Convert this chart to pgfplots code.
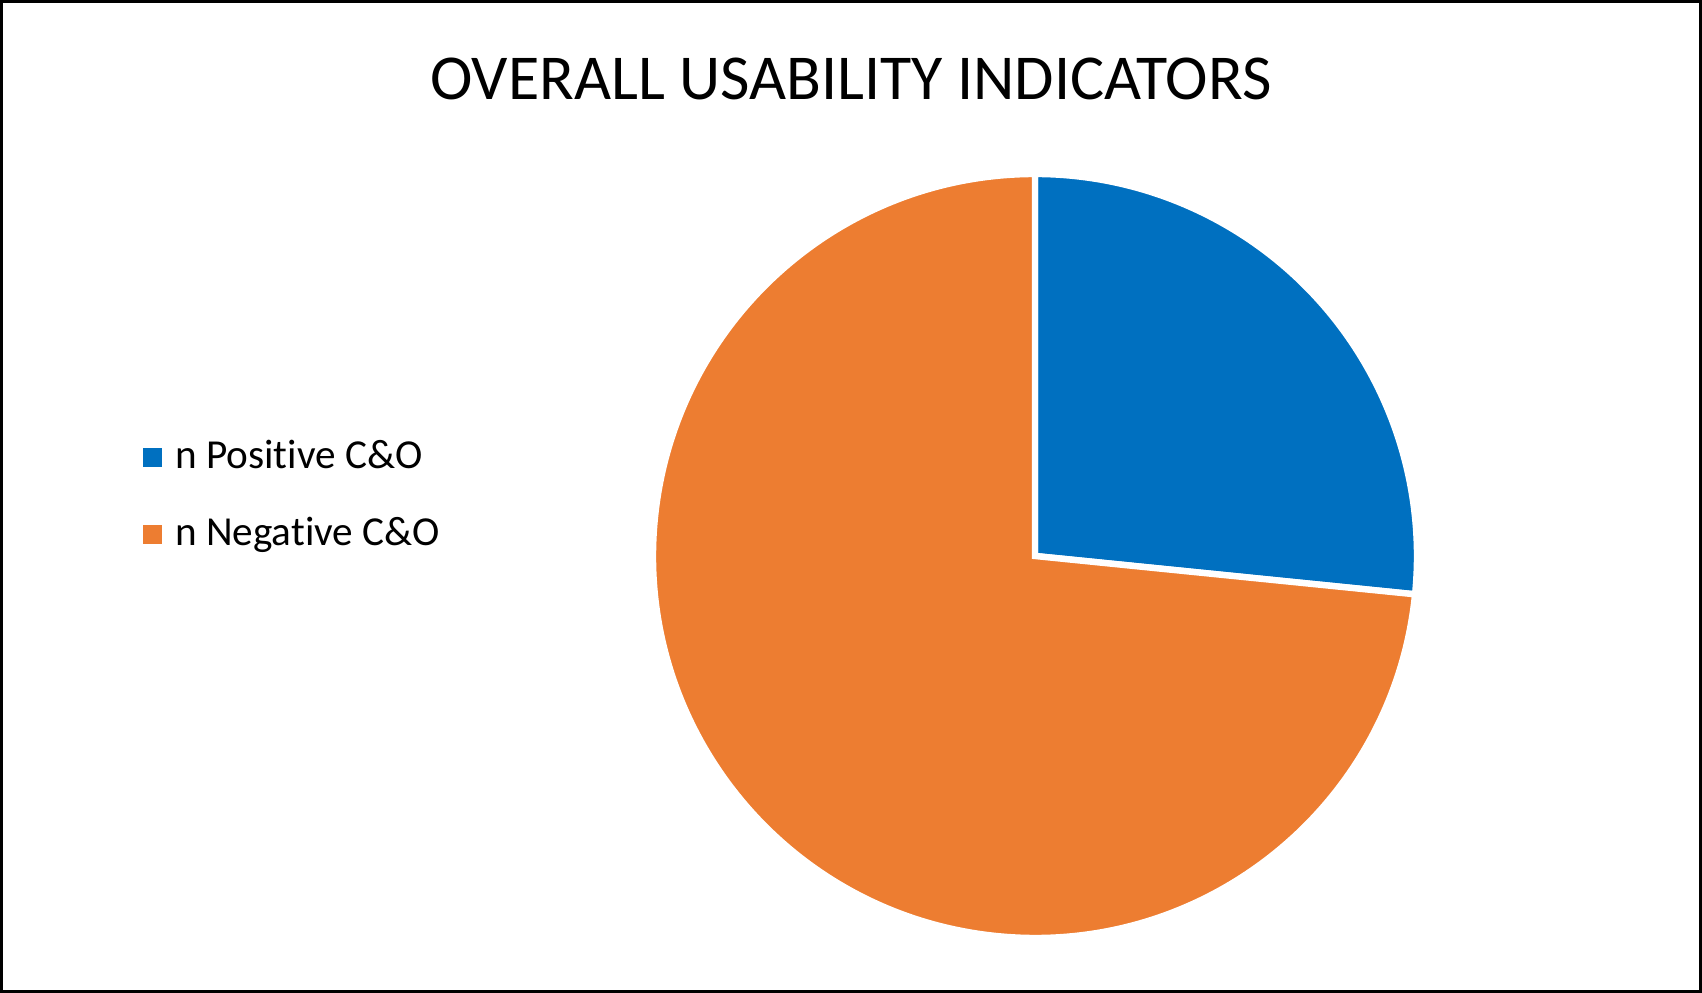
\documentclass[border=0pt]{standalone}
\usepackage{fontspec}
\setmainfont[Ligatures=NoCommon]{Carlito}
\usepackage{pgfplots}
\usepackage{pgfplotstable}
\pgfplotsset{compat=1.18}

\definecolor{posblue}{HTML}{0070C0}
\definecolor{negorange}{HTML}{ED7D31}

% share of each slice (percent) and the share that comes before it
\pgfplotstableread{
value before
26.6 0
}\posdata
\pgfplotstableread{
value before
73.4 26.6
}\negdata

% a pie sector drawn as a mark at the pie centre
\pgfdeclareplotmark{slice}{%
  \pgfmathsetmacro\sa{90-3.6*\pbefore}%
  \pgfmathsetmacro\se{90-3.6*(\pbefore+\pval)}%
  \pgfpathmoveto{\pgfpointorigin}%
  \pgfpathlineto{\pgfpointpolar{\sa}{95.5pt}}%
  \pgfpatharc{\sa}{\se}{95.5pt}%
  \pgfpathclose
  \pgfusepathqfillstroke
}

\pgfplotsset{pieslice/.style={only marks, mark=slice, draw=white, line width=1.6pt,
  visualization depends on={\thisrow{value} \as \pval},
  visualization depends on={\thisrow{before} \as \pbefore}}}

\begin{document}
\begin{tikzpicture}
\begin{axis}[
  scale only axis, width=425.5pt, height=248.25pt,
  xmin=0, xmax=1702, ymin=0, ymax=993,
  axis lines=none, clip=false,
  legend style={at={(axis cs:142,497)}, anchor=west, draw=none, fill=none,
    font=\fontsize{10.3}{12}\selectfont, row sep=8.5pt, inner sep=0pt,
    nodes={inner sep=1pt}},
  legend cell align=left,
]
\draw[black, line width=0.75pt] (axis cs:1.5,1.5) rectangle (axis cs:1700.5,991.5);
\node[font=\fontsize{16}{19}\selectfont] at (axis cs:851,914) {OVERALL USABILITY INDICATORS};
\addplot[pieslice, fill=posblue,
  legend image code/.code={\fill[posblue] (0pt,-1.6pt) rectangle (3.2pt,1.6pt);
    \path (5.5pt,0pt);}]
  table[x expr=1035, y expr=437] {\posdata};
\addlegendentry{n Positive C\&O}
\addplot[pieslice, fill=negorange,
  legend image code/.code={\fill[negorange] (0pt,-1.6pt) rectangle (3.2pt,1.6pt);
    \path (5.5pt,0pt);}]
  table[x expr=1035, y expr=437] {\negdata};
\addlegendentry{n Negative C\&O}
\end{axis}
\end{tikzpicture}
\end{document}
